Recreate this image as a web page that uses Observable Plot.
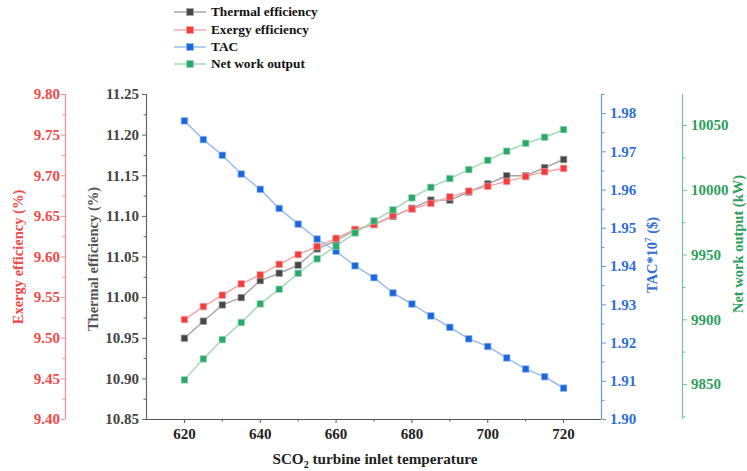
<!DOCTYPE html>
<html><head><meta charset="utf-8">
<script src="https://cdn.jsdelivr.net/npm/d3@7"></script>
<script src="https://cdn.jsdelivr.net/npm/@observablehq/plot@0.6"></script>
<style>
body{margin:0;background:#fff;font-family:"Liberation Serif","Times New Roman",serif;}
#wrap{position:relative;width:747px;height:471px;overflow:hidden;background:#fff;}
#chart{position:absolute;left:0;top:80px;}
.leg{position:absolute;left:174px;height:16px;display:flex;align-items:center;font-weight:bold;font-size:13.3px;color:#111;white-space:nowrap;}
.leg svg{margin-right:5px;}
.ttl{position:absolute;font-weight:bold;font-size:14.5px;white-space:nowrap;transform:translate(-50%,-50%) rotate(-90deg);}
#xt{position:absolute;left:375px;top:460px;transform:translate(-50%,-50%);font-weight:bold;font-size:15.2px;color:#222;white-space:nowrap;}
</style></head><body>
<div id="wrap">
  <div id="legend"></div>
  <div id="chart"></div>
  <div class="ttl" style="left:18px;top:257px;color:#f04a4a">Exergy efficiency (%)</div>
  <div class="ttl" style="left:93px;top:259px;color:#555">Thermal efficiency (%)</div>
  <div class="ttl" style="left:652px;top:255px;color:#2f6fd6">TAC*10<sup style="font-size:9px">7</sup> ($)</div>
  <div class="ttl" style="left:738px;top:244px;color:#2e9e5e">Net work output (kW)</div>
  <div id="xt">SCO<sub style="font-size:10px">2</sub> turbine inlet temperature</div>
</div>
<script>
// ---- data ----
const temps = [620,625,630,635,640,645,650,655,660,665,670,675,680,685,690,695,700,705,710,715,720];
const thermal = [10.950,10.971,10.991,11.000,11.021,11.030,11.040,11.060,11.070,11.083,11.090,11.100,11.110,11.120,11.120,11.130,11.140,11.150,11.150,11.160,11.170];
const exergy = [9.523,9.539,9.553,9.567,9.578,9.591,9.603,9.613,9.623,9.634,9.640,9.651,9.659,9.666,9.674,9.681,9.687,9.693,9.699,9.705,9.709];
const tac = [1.9781,1.9732,1.9691,1.9642,1.9602,1.9552,1.9511,1.9472,1.9440,1.9402,1.9371,1.9331,1.9302,1.9271,1.9241,1.9211,1.9191,1.9161,1.9132,1.9112,1.9082];
const netWork = [9853.6,9869.8,9884.7,9897.9,9912.3,9923.6,9935.9,9947.1,9956.9,9967.1,9976.4,9984.9,9994.2,10002.3,10009.1,10016.0,10023.2,10030.2,10036.3,10041.0,10046.9];

const seriesNames = ["Thermal efficiency","Exergy efficiency","TAC","Net work output"];
const xTicks = [620,640,660,680,700,720];
const xMinor = [630,650,670,690,710];
const thermalTicks = [10.85,10.90,10.95,11.00,11.05,11.10,11.15,11.20,11.25];
const thermalMinor = [10.875,10.925,10.975,11.025,11.075,11.125,11.175,11.225];
const exergyTicks = [9.40,9.45,9.50,9.55,9.60,9.65,9.70,9.75,9.80];
const exergyMinor = [9.425,9.475,9.525,9.575,9.625,9.675,9.725,9.775];
const tacTicks = [1.90,1.91,1.92,1.93,1.94,1.95,1.96,1.97,1.98];
const tacMinor = [1.905,1.915,1.925,1.935,1.945,1.955,1.965,1.975,1.985];
const netTicks = [9850,9900,9950,10000,10050];
const netMinor = [9825,9875,9925,9975,10025];

const thermalDomain = [10.85, 11.25];
const exergyDomain = [9.40, 9.80];
const tacDomain = [1.90, 1.985];
const netDomain = [9823, 10074];

// ---- styles ----
const FONT = "'Liberation Serif','Times New Roman',serif";
const C = {
  th: {pt:"#474747", ln:"#a3a3a3", axis:"#666", lab:"#444"},
  ex: {pt:"#f23d3d", ln:"#f7a3a3", axis:"#ff8a8a", lab:"#f04a4a"},
  tac:{pt:"#1a66dd", ln:"#92b9f0", axis:"#5b9bf0", lab:"#2f6fd6"},
  net:{pt:"#2aa869", ln:"#9ed8b6", axis:"#6cc890", lab:"#2e9e5e"}
};

const norm = (v, [lo, hi]) => (v - lo) / (hi - lo);
const rows = temps.map((t, i) => ({
  t,
  th: norm(thermal[i], thermalDomain),
  ex: norm(exergy[i], exergyDomain),
  tac: norm(tac[i], tacDomain),
  net: norm(netWork[i], netDomain)
}));

function yAxis(major, minor, dom, anchor, dx, col, pad, fmt) {
  const tf = d => fmt(dom[0] + d * (dom[1] - dom[0]));
  return [
    Plot.axisY(major.map(v => norm(v, dom)), {anchor, dx, tickSize: 4, tickPadding: pad, stroke: col.axis, fill: col.lab,
      fontSize: 15, fontWeight: "bold", fontFamily: FONT, tickFormat: tf, label: null}),
    Plot.axisY(minor.map(v => norm(v, dom)), {anchor, dx, tickSize: 2.5, stroke: col.axis, tickFormat: () => "", label: null})
  ];
}

const seriesMarks = (key) => [
  Plot.line(rows, {x: "t", y: key, stroke: C[key].ln, strokeWidth: 1.4}),
  Plot.dot(rows, {x: "t", y: key, symbol: "square", r: 3.7, fill: C[key].pt, stroke: C[key].ln, strokeWidth: 0.7})
];

const chart = Plot.plot({
  width: 747, height: 391,
  marginTop: 14, marginBottom: 52, marginLeft: 146, marginRight: 146,
  style: {fontFamily: FONT, background: "#fff"},
  x: {domain: [610, 730]},
  y: {domain: [0, 1]},
  marks: [
    ...yAxis(thermalTicks, thermalMinor, thermalDomain, "left", 0, C.th, 3.5, d3.format(".2f")),
    ...yAxis(exergyTicks, exergyMinor, exergyDomain, "left", -81, C.ex, 1.5, d3.format(".2f")),
    ...yAxis(tacTicks, tacMinor, tacDomain, "right", 0, C.tac, 4.5, d3.format(".2f")),
    ...yAxis(netTicks, netMinor, netDomain, "right", 81, C.net, 4.5, d3.format("d")),
    Plot.axisX(xTicks, {anchor: "bottom", tickSize: 4, tickPadding: 5, stroke: "#555", fill: "#222", fontSize: 15, fontWeight: "bold", fontFamily: FONT, label: null}),
    Plot.axisX(xMinor, {anchor: "bottom", tickSize: 2.5, stroke: "#555", tickFormat: () => "", label: null}),
    Plot.ruleX([610], {y1: 0, y2: 1, stroke: C.th.axis, strokeWidth: 1.2}),
    Plot.ruleX([610], {y1: 0, y2: 1, dx: -81, stroke: C.ex.axis, strokeWidth: 1.2}),
    Plot.ruleX([730], {y1: 0, y2: 1, stroke: C.tac.axis, strokeWidth: 1.2}),
    Plot.ruleX([730], {y1: 0, y2: 1, dx: 81, stroke: C.net.axis, strokeWidth: 1.2}),
    Plot.ruleY([0], {x1: 610, x2: 730, stroke: "#555", strokeWidth: 1.2}),
    ...seriesMarks("th"),
    ...seriesMarks("ex"),
    ...seriesMarks("tac"),
    ...seriesMarks("net")
  ]
});
document.getElementById("chart").appendChild(chart);

// ---- legend ----
const legKeys = ["th","ex","tac","net"];
const legTops = [4, 22, 39, 56];
const legend = document.getElementById("legend");
seriesNames.forEach((name, i) => {
  const c = C[legKeys[i]];
  const div = document.createElement("div");
  div.className = "leg";
  div.style.top = legTops[i] + "px";
  div.innerHTML = `<svg width="32" height="10"><line x1="0" y1="5" x2="32" y2="5" stroke="${c.ln}" stroke-width="1.4"/><rect x="12.5" y="1.5" width="7" height="7" fill="${c.pt}" stroke="${c.ln}" stroke-width="0.7"/></svg><span>${name}</span>`;
  legend.appendChild(div);
});
</script>
</body></html>
